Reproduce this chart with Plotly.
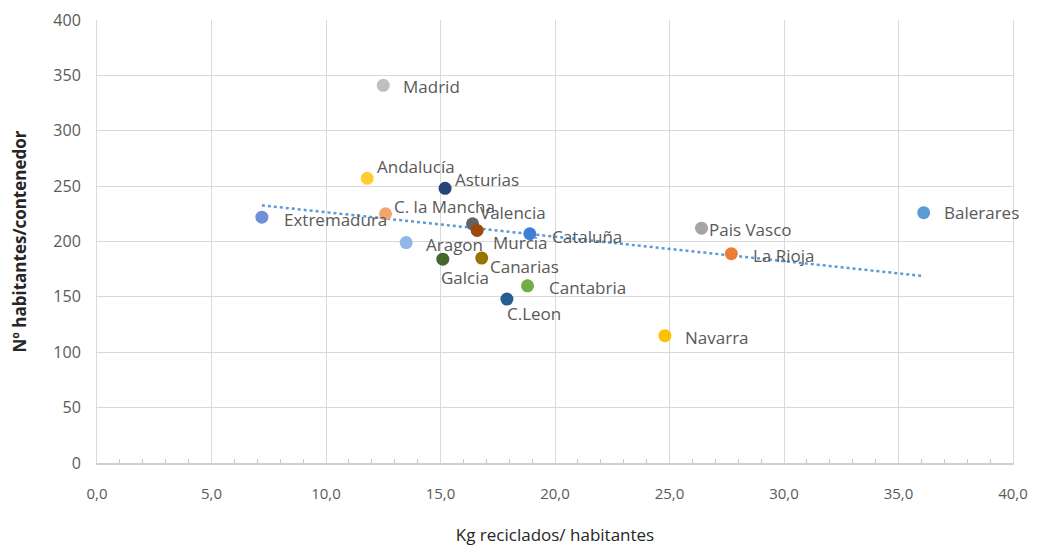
import numpy as np
import plotly.graph_objects as go

regions = ["Madrid", "Andalucía", "Asturias", "C. la Mancha", "Extremadura", "Valencia",
           "Murcia", "Cataluña", "Aragon", "Galcia", "Canarias", "Cantabria", "C.Leon",
           "Navarra", "Pais Vasco", "La Rioja", "Balerares"]
kg_per_hab = [12.5, 11.8, 15.2, 12.6, 7.2, 16.4, 16.6, 18.9, 13.5, 15.1, 16.8, 18.8, 17.9,
              24.8, 26.4, 27.7, 36.1]
hab_per_cont = [341, 257, 248, 225, 222, 216, 210, 207, 199, 184, 185, 160, 148,
                115, 212, 189, 226]

colors = ["#BFBFBF", "#FFCC33", "#264478", "#F4A46F", "#6F8FD6", "#636363",
          "#9E480E", "#3F7FD8", "#8FB8E6", "#43682B", "#997300", "#70AD47", "#255E91",
          "#FFC000", "#A5A5A5", "#ED7D31", "#5B9BD5"]

# label offsets in pixels (xshift, yshift), text is left-anchored
label_shift = [(18, -1), (8, 12), (8, 9), (6, 7), (20, -2), (5, 11),
               (14, -12), (20, -3), (18, -2), (-4, -18), (6, -8), (19, -2), (-2, -14),
               (18, -2), (5, -1), (20, -2), (18, 0)]

fig = go.Figure()

# linear trend line (least squares fit of the points)
slope, intercept = np.polyfit(kg_per_hab, hab_per_cont, 1)
tx = [min(kg_per_hab), max(kg_per_hab)]
fig.add_trace(go.Scatter(x=tx, y=[slope * v + intercept for v in tx], mode="lines",
                         line=dict(color="#5B9BD5", width=2.5, dash="dot"),
                         hoverinfo="skip", showlegend=False))

fig.add_trace(go.Scatter(x=kg_per_hab, y=hab_per_cont, mode="markers", text=regions,
                         marker=dict(color=colors, size=13), showlegend=False))

for name, x, y, (dx, dy) in zip(regions, kg_per_hab, hab_per_cont, label_shift):
    fig.add_annotation(x=x, y=y, text=name, showarrow=False, xanchor="left",
                       xshift=dx, yshift=dy, font=dict(size=17, color="#595959"))

# page body has an 8px margin, so the figure is a bit smaller than the window
fig.update_layout(
    width=1021, height=538,
    margin=dict(l=89, r=16, t=12, b=83),
    paper_bgcolor="white", plot_bgcolor="white",
    separators=",.",
    font=dict(family="Open Sans", size=16, color="#595959"),
)
fig.update_xaxes(
    range=[0, 40], dtick=5, tickformat=".1f", automargin=False,
    showgrid=True, gridcolor="#D9D9D9", gridwidth=1,
    showline=True, linecolor="#D0D0D0", linewidth=1.5,
    zeroline=False, ticks="", ticklabelstandoff=16, ticklabeloverflow="allow",
    minor=dict(dtick=1, ticks="inside", ticklen=4, tickcolor="#C8C8C8", showgrid=False),
    title=dict(text="Kg reciclados/ habitantes", font=dict(size=17, color="#262626"),
               standoff=34),
    tickfont=dict(size=15, color="#595959"),
)
fig.update_yaxes(
    range=[0, 400], dtick=50, automargin=False,
    showgrid=True, gridcolor="#D9D9D9", gridwidth=1,
    zeroline=False, showline=True, mirror=True, linecolor="#D9D9D9", linewidth=1,
    ticks="", ticklabelstandoff=12,
    title=dict(text="<b>Nº habitantes/contenedor</b>", font=dict(size=17, color="#262626"),
               standoff=30),
    tickfont=dict(size=16, color="#595959"),
)

fig.write_html("out.html")
